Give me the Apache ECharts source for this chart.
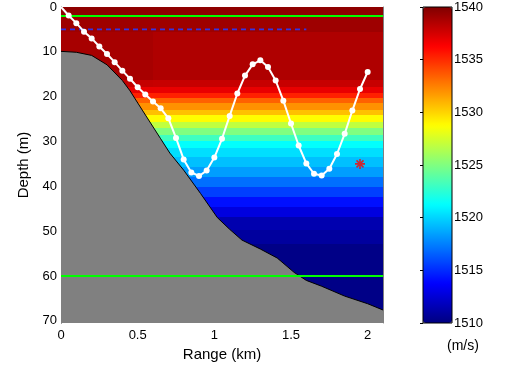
<!DOCTYPE html>
<html><head><meta charset="utf-8">
<script src="https://cdn.jsdelivr.net/npm/echarts@6/dist/echarts.min.js"></script>
<style>html,body{margin:0;padding:0;background:#fff}#c{width:506px;height:369px}</style>
</head><body><div id="c"></div>
<script>
// Sound-speed field, read as contour bands (depth edges in m, speed in m/s per band)
const fieldDepthEdges = [0, 2, 5.5, 16.3, 17.9, 19.2, 20.3, 21.5, 23, 24.1, 25.6, 27.1, 28.6, 30, 31.5, 33.4, 35.6, 37.9, 40.1, 42.3, 44.6, 46.8, 49.8, 52.8, 70.5];
const fieldRangeEdges = [0, 0.6, 2.1];
const speedNearShore = [1539.6, 1539.1, 1538.85, 1538.0, 1536.9, 1535.3, 1533.4, 1532.0, 1530.6, 1528.8, 1526.9, 1525.0, 1523.1, 1521.3, 1520.3, 1519.4, 1518.4, 1517.0, 1515.6, 1514.2, 1512.8, 1511.4, 1510.9, 1510.2];
const speedOffshore  = [1539.6, 1539.1, 1538.6, 1537.9, 1536.9, 1535.3, 1533.4, 1532.0, 1530.6, 1528.8, 1526.9, 1525.0, 1523.1, 1521.3, 1520.3, 1519.4, 1518.4, 1517.0, 1515.6, 1514.2, 1512.8, 1511.4, 1510.9, 1510.2];

// Seabed
const bathyRange = [0, 0.1, 0.2, 0.3, 0.4, 0.45, 0.53, 0.65, 0.71, 0.8, 0.91, 1.02, 1.1, 1.18, 1.3, 1.41, 1.52, 1.6, 1.7, 1.85, 2.0, 2.1];
const bathyDepth = [9.9, 10.1, 10.8, 12.9, 16.4, 18.7, 23.0, 29.4, 32.6, 36.4, 41.6, 47.0, 49.6, 52.0, 54.0, 56.0, 59.2, 61.0, 62.3, 64.5, 66.2, 67.6];

// Glider path
const pathRange = [0, 0.05, 0.1, 0.15, 0.2, 0.25, 0.3, 0.35, 0.4, 0.45, 0.5, 0.55, 0.6, 0.65, 0.7, 0.75, 0.8, 0.85, 0.9, 0.95, 1.0, 1.05, 1.1, 1.15, 1.2, 1.25, 1.3, 1.35, 1.4, 1.45, 1.5, 1.55, 1.6, 1.65, 1.7, 1.75, 1.8, 1.85, 1.9, 1.95, 2.0];
const pathDepth = [0, 1.9, 3.6, 5.5, 7.0, 8.8, 10.5, 12.3, 14.2, 16.0, 17.9, 19.5, 21.1, 22.6, 24.8, 29.2, 34.0, 36.9, 37.7, 36.5, 33.6, 29.4, 24.3, 19.3, 15.3, 12.8, 11.9, 13.4, 16.4, 20.9, 26.0, 30.9, 34.9, 37.2, 37.6, 36.1, 32.8, 28.3, 23.1, 18.3, 14.5];

// Reference lines and marker
const greenDepths = [2, 60];
const dashedDepth = 5;
const dashedRange = [0, 1.6];
const starRange = [1.95];
const starDepth = [35];

// Axis / colorbar scales
const xTicks = [0, 0.5, 1, 1.5, 2];
const yTicks = [0, 10, 20, 30, 40, 50, 60, 70];
const cbarMin = 1510, cbarMax = 1540, cbarStep = 5;

const jet = ['#000080','#0000ff','#0080ff','#00ffff','#80ff80','#ffff00','#ff8000','#ff0000','#800000'];
const font = '"Liberation Sans", Arial, Helvetica, sans-serif';

const cells = [];
for (let j = 0; j < fieldRangeEdges.length - 1; j++) {
  const prof = j === 0 ? speedNearShore : speedOffshore;
  for (let i = 0; i < fieldDepthEdges.length - 1; i++) {
    cells.push([fieldRangeEdges[j], fieldRangeEdges[j + 1], fieldDepthEdges[i], fieldDepthEdges[i + 1], prof[i]]);
  }
}
const isTick = (arr, v) => arr.some(t => Math.abs(t - v) < 1e-6);

const chart = echarts.init(document.getElementById('c'), null, {renderer: 'canvas'});
const option = {
  animation: false,
  backgroundColor: '#fff',
  textStyle: {fontFamily: font},
  title: {text: '(m/s)', left: 447, top: 339, padding: 0,
    textStyle: {fontSize: 14, fontWeight: 'normal', color: '#000', fontFamily: font}},
  grid: [
    {left: 61, top: 7, width: 322, height: 316},
    {left: 423, top: 7, width: 29, height: 316, show: true, borderColor: '#000', borderWidth: 1, backgroundColor: 'transparent', z: 10}
  ],
  xAxis: [
    {gridIndex: 0, type: 'value', min: 0, max: 2.1, interval: 0.5,
      axisLine: {show: false}, axisTick: {show: false}, splitLine: {show: false},
      axisLabel: {color: '#000', fontSize: 13, fontFamily: font, margin: 6,
        formatter: v => isTick(xTicks, v) ? String(v) : ''},
      name: 'Range (km)', nameLocation: 'middle', nameGap: 23,
      nameTextStyle: {color: '#000', fontSize: 15, fontFamily: font}},
    {gridIndex: 1, type: 'value', min: 0, max: 1, show: false}
  ],
  yAxis: [
    {gridIndex: 0, type: 'value', inverse: true, min: 0, max: 70.5, interval: 10,
      axisLine: {show: true, lineStyle: {color: '#000', width: 1}}, axisTick: {show: false}, splitLine: {show: false},
      axisLabel: {color: '#000', fontSize: 13, fontFamily: font, margin: 4,
        formatter: v => isTick(yTicks, v) ? String(v) : ''},
      name: 'Depth (m)', nameLocation: 'middle', nameGap: 28, nameRotate: 90,
      nameTextStyle: {color: '#000', fontSize: 15, fontFamily: font}},
    {gridIndex: 0, type: 'value', inverse: true, min: 0, max: 70.5, position: 'right',
      axisLine: {show: true, lineStyle: {color: '#808080', width: 1}}, axisTick: {show: false},
      axisLabel: {show: false}, splitLine: {show: false}},
    {gridIndex: 1, type: 'value', min: cbarMin, max: cbarMax, interval: cbarStep, position: 'right',
      axisLine: {show: false}, axisTick: {show: true, inside: true, length: 3, lineStyle: {color: '#000'}},
      axisLabel: {color: '#000', fontSize: 13, fontFamily: font, margin: 2, formatter: v => String(v)},
      splitLine: {show: false}, z: 11}
  ],
  visualMap: {
    type: 'continuous', min: cbarMin, max: cbarMax, dimension: 4, seriesIndex: 0,
    inRange: {color: jet}, left: 423, top: 7, itemWidth: 29, itemHeight: 316,
    calculable: false, padding: 0, orient: 'vertical', hoverLink: false
  },
  series: [
    {type: 'custom', xAxisIndex: 0, yAxisIndex: 0, data: cells, clip: true, silent: true, z: 1,
      encode: {x: [0, 1], y: [2, 3]},
      renderItem: function (params, api) {
        const a = api.coord([api.value(0), api.value(2)]);
        const b = api.coord([api.value(1), api.value(3)]);
        const x0 = Math.round(Math.min(a[0], b[0])), x1 = Math.round(Math.max(a[0], b[0]));
        const y0 = Math.round(Math.min(a[1], b[1])), y1 = Math.round(Math.max(a[1], b[1]));
        return {type: 'rect', shape: {x: x0, y: y0, width: x1 - x0, height: y1 - y0},
          style: {fill: api.visual('color')}};
      }},
    {type: 'line', xAxisIndex: 0, yAxisIndex: 0, z: 2, silent: true, symbol: 'none',
      data: bathyRange.map((r, i) => [r, bathyDepth[i]]),
      lineStyle: {color: '#000', width: 1},
      areaStyle: {color: '#808080', opacity: 1, origin: 'end'}},
    {type: 'line', xAxisIndex: 0, yAxisIndex: 0, z: 3, silent: true, symbol: 'none',
      data: [[0, greenDepths[0]], [2.1, greenDepths[0]]], lineStyle: {color: '#00ff00', width: 2}},
    {type: 'line', xAxisIndex: 0, yAxisIndex: 0, z: 3, silent: true, symbol: 'none',
      data: [[0, greenDepths[1]], [2.1, greenDepths[1]]], lineStyle: {color: '#00ff00', width: 2}},
    {type: 'line', xAxisIndex: 0, yAxisIndex: 0, z: 3, silent: true, symbol: 'none',
      data: [[dashedRange[0], dashedDepth], [dashedRange[1], dashedDepth]],
      lineStyle: {color: '#3333e6', width: 1.6, type: [5, 4], opacity: 1}},
    {type: 'line', xAxisIndex: 0, yAxisIndex: 0, z: 4, silent: true, showAllSymbol: true,
      symbol: 'circle', symbolSize: 6,
      data: pathRange.map((r, i) => i === 0 ? {value: [r, pathDepth[i]], symbol: 'none'} : [r, pathDepth[i]]),
      itemStyle: {color: '#fff'}, lineStyle: {color: '#fff', width: 2}},
    {type: 'scatter', xAxisIndex: 0, yAxisIndex: 0, z: 5, silent: true,
      symbol: 'path://M0,-5L0,5M-5,0L5,0M-3.5,-3.5L3.5,3.5M-3.5,3.5L3.5,-3.5',
      symbolSize: 10,
      data: starRange.map((r, i) => [r, starDepth[i]]),
      itemStyle: {color: 'transparent', borderColor: '#ff0000', borderWidth: 1.6}}
  ]
};
chart.setOption(option);
</script>
</body></html>
